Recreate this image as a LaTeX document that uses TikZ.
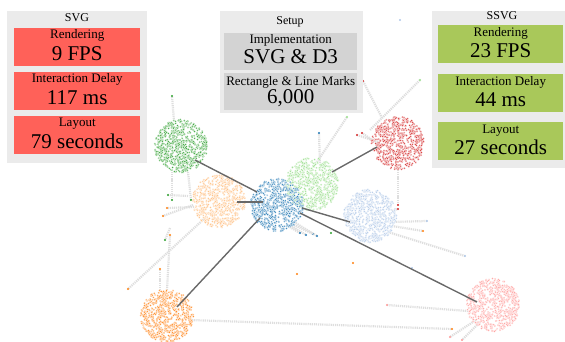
\documentclass[tikz,border=0pt]{standalone}
\usepackage{fontspec}
\setmainfont{Liberation Serif}
\usepackage{tikz}
\usetikzlibrary{positioning}
\usepackage{xcolor}
\definecolor{svgred}{RGB}{255,97,89}
\definecolor{ssvggreen}{RGB}{169,200,90}
\definecolor{panelgray}{RGB}{235,235,235}
\definecolor{setupgray}{RGB}{211,211,211}
\definecolor{edgegray}{RGB}{105,105,105}
\definecolor{cgreen}{RGB}{44,160,44}
\definecolor{clorange}{RGB}{255,187,120}
\definecolor{cblue}{RGB}{31,119,180}
\definecolor{clgreen}{RGB}{152,223,138}
\definecolor{cred}{RGB}{214,39,40}
\definecolor{clblue}{RGB}{174,199,232}
\definecolor{corange}{RGB}{255,127,14}
\definecolor{cpink}{RGB}{255,152,150}
\tikzstyle{panel} = [fill=panelgray, anchor=north west, inner sep=0pt]
\tikzstyle{box} = [anchor=north west, inner sep=0pt, minimum height=38pt]
\tikzstyle{title} = [inner sep=0pt, font=\fontsize{12}{12}\selectfont]
\tikzstyle{lbl} = [anchor=base, inner sep=0pt, font=\fontsize{13}{13}\selectfont]
\tikzstyle{val} = [anchor=base, inner sep=0pt, font=\fontsize{21}{21}\selectfont]
\tikzstyle{hub} = [circle, inner sep=0pt, minimum size=52pt]
\tikzstyle{link} = [line width=1.4pt, color=edgegray]
\tikzstyle{faint} = [line width=2.2pt, color=black!13, dash pattern=on 1.2pt off 0.9pt]
\tikzstyle{dotmark} = [draw=white, line width=0.2pt]

% scatter the nodes of one community round its hub
\newcommand{\community}[3]{%
  \pgfmathsetseed{#3}
  \foreach \i in {1,...,680} {
    \pgfmathsetmacro{\rr}{26.5*sqrt(rnd)}
    \pgfmathsetmacro{\aa}{360*rnd}
    \filldraw[dotmark, fill=#2, shift={(#1)}] (\aa:\rr) circle (1pt);
  }}

\begin{document}
\begin{tikzpicture}[x=1pt, y=-1pt]
\useasboundingbox (0,0) rectangle (565,342);

% Hubs of the communities
\node[hub] (gr) at (181,146) {};
\node[hub] (lo) at (219,201) {};
\node[hub] (bl) at (277,205) {};
\node[hub] (lg) at (312,184) {};
\node[hub] (rd) at (398,143) {};
\node[hub] (lb) at (370,216) {};
\node[hub] (og) at (167,316) {};
\node[hub] (pk) at (493,305) {};

% Faint edges to outlying nodes
\foreach \ax/\ay/\bx/\by/\c [count=\i] in {
  190/320/452/329/corange, 468/311/387/305/cpink, 388/232/465/256/clblue,
  392/222/427/221/clblue, 392/226/423/231/corange, 382/118/363/81/cred,
  370/130/420/80/clgreen, 174/121/172/96/cgreen, 398/168/398/205/cred,
  194/207/167/208/corange, 193/205/163/216/corange, 188/196/168/195/cgreen,
  172/172/172/200/cgreen, 188/172/191/200/cgreen, 205/218/128/289/corange,
  167/290/170/235/corange, 160/290/160/269/corange, 290/225/306/235/cblue,
  292/224/313/234/cblue, 294/222/317/236/cblue, 288/226/300/233/cblue,
  317/162/347/117/clgreen, 320/165/319/133/cblue, 476/320/450/337/cpink,
  480/322/462/340/cpink, 378/142/357/135/cred, 378/144/362/133/cred,
  392/211/398/209/cred, 170/228/165/240/cgreen} {
  \coordinate (p\i) at (\ax,\ay);
  \coordinate (q\i) at (\bx,\by);
  \draw[faint] (p\i) -- (q\i);
  \fill[\c] (q\i) circle (1.2pt);
}

% Stray nodes
\fill[corange] (297,274) circle (1.1pt);
\fill[corange] (353,263) circle (1.1pt);
\fill[clblue] (412,268) circle (1.1pt);
\fill[cgreen] (331,233) circle (1.1pt);
\fill[clblue] (400,20) circle (1.1pt);

% Communities
\community{gr}{cgreen}{11}
\community{lo}{clorange}{12}
\community{lg}{clgreen}{13}
\community{lb}{clblue}{14}
\community{rd}{cred}{15}
\community{og}{corange}{16}
\community{pk}{cpink}{17}
\community{bl}{cblue}{18}

% Links between communities
\coordinate (gre) at (195,160);
\coordinate (bla) at (257,192);
\coordinate (loe) at (237,202);
\coordinate (blb) at (263,202);
\coordinate (lge) at (332,172);
\coordinate (rde) at (377,147);
\coordinate (blc) at (302,208);
\coordinate (lbe) at (350,222);
\coordinate (bld) at (260,218);
\coordinate (oge) at (177,307);
\coordinate (ble) at (300,213);
\coordinate (pke) at (477,302);
\draw[link] (gre) -- (bla);
\draw[link] (loe) -- (blb);
\draw[link] (lge) -- (rde);
\draw[link] (blc) -- (lbe);
\draw[link] (bld) -- (oge);
\draw[link] (ble) -- (pke);

% SVG panel
\node[panel, minimum width=140pt, minimum height=152pt] (svgp) at (7,11) {};
\node[title] (svgt) at (77,18) {SVG};
\node[box, fill=svgred, minimum width=126pt] (svg1) at (14,28) {};
\node[box, fill=svgred, minimum width=126pt] (svg2) at (14,72) {};
\node[box, fill=svgred, minimum width=126pt] (svg3) at (14,116) {};
\node[lbl] (svg1l) at ([yshift=-11pt]svg1.north) {Rendering};
\node[val] (svg1v) at ([yshift=6pt]svg1.south) {9 FPS};
\node[lbl] (svg2l) at ([yshift=-11pt]svg2.north) {Interaction Delay};
\node[val] (svg2v) at ([yshift=6pt]svg2.south) {117 ms};
\node[lbl] (svg3l) at ([yshift=-11pt]svg3.north) {Layout};
\node[val] (svg3v) at ([yshift=6pt]svg3.south) {79 seconds};

% Setup panel
\node[panel, minimum width=143pt, minimum height=102pt] (setp) at (220,11) {};
\node[title] (sett) at (290,22) {Setup};
\node[box, fill=setupgray, minimum width=133pt, minimum height=37pt] (set1) at (224,33) {};
\node[box, fill=setupgray, minimum width=133pt, minimum height=37pt] (set2) at (224,73) {};
\node[lbl] (set1l) at ([yshift=-11pt]set1.north) {Implementation};
\node[val] (set1v) at ([yshift=7pt]set1.south) {SVG \& D3};
\node[lbl] (set2l) at ([yshift=-13pt]set2.north) {Rectangle \& Line Marks};
\node[val] (set2v) at ([yshift=7pt]set2.south) {6,000};

% SSVG panel
\node[panel, minimum width=133pt, minimum height=157pt] (ssvgp) at (432,11) {};
\node[title] (ssvgt) at (502,16) {SSVG};
\node[box, fill=ssvggreen, minimum width=125pt] (ssvg1) at (438,25) {};
\node[box, fill=ssvggreen, minimum width=125pt] (ssvg2) at (438,74) {};
\node[box, fill=ssvggreen, minimum width=125pt] (ssvg3) at (438,122) {};
\node[lbl] (ssvg1l) at ([yshift=-12pt]ssvg1.north) {Rendering};
\node[val] (ssvg1v) at ([yshift=6pt]ssvg1.south) {23 FPS};
\node[lbl] (ssvg2l) at ([yshift=-12pt]ssvg2.north) {Interaction Delay};
\node[val] (ssvg2v) at ([yshift=6pt]ssvg2.south) {44 ms};
\node[lbl] (ssvg3l) at ([yshift=-12pt]ssvg3.north) {Layout};
\node[val] (ssvg3v) at ([yshift=6pt]ssvg3.south) {27 seconds};
\end{tikzpicture}
\end{document}
